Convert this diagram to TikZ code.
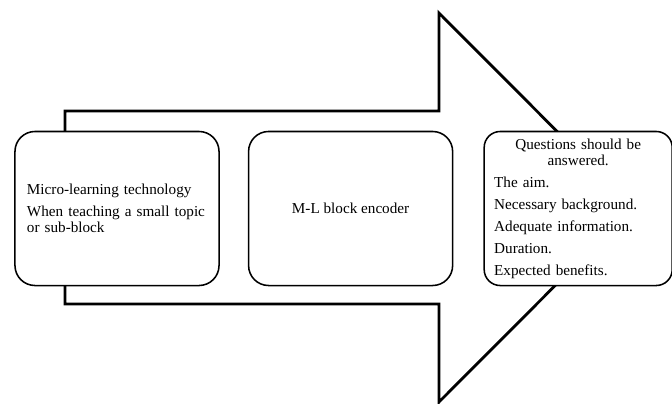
\documentclass[tikz,border=0pt]{standalone}
\usepackage{fontspec}
\setmainfont{Liberation Serif}
\usetikzlibrary{positioning}

\begin{document}
\begin{tikzpicture}[
  x=0.025cm, y=-0.025cm,
  node distance=0.7cm,
  block/.style={draw, line width=1.1pt, rounded corners=0.5cm, fill=white, minimum width=5.1cm, minimum height=3.85cm, align=center, font=\fontsize{10.8}{11.6}\selectfont},
  bigarrow/.style={draw, line width=2pt, line join=miter}
]
\useasboundingbox (0,0) rectangle (672,403);
% the big arrow sits behind the three blocks
\draw[bigarrow] (65,111) -- (439,111) -- (439,13) -- (633,207.5) -- (439,402) -- (439,304) -- (65,304) -- cycle;
\node[block, text width=4.5cm, align=left] (micro) at (117,208.5) {Micro-learning technology\\[4pt]When teaching a small topic\\or sub-block};
\node[block, right=0.7cm of micro] (encoder) {M-L block encoder};
\node[block, right=0.75cm of encoder, minimum width=4.7cm, text width=4.2cm, align=left, rounded corners=0.4cm] (questions) {%
  {\centering Questions should be\\answered.\par}\vspace{4pt}%
  The aim.\\[4pt]Necessary background.\\[4pt]Adequate information.\\[4pt]Duration.\\[4pt]Expected benefits.};
\end{tikzpicture}
\end{document}
